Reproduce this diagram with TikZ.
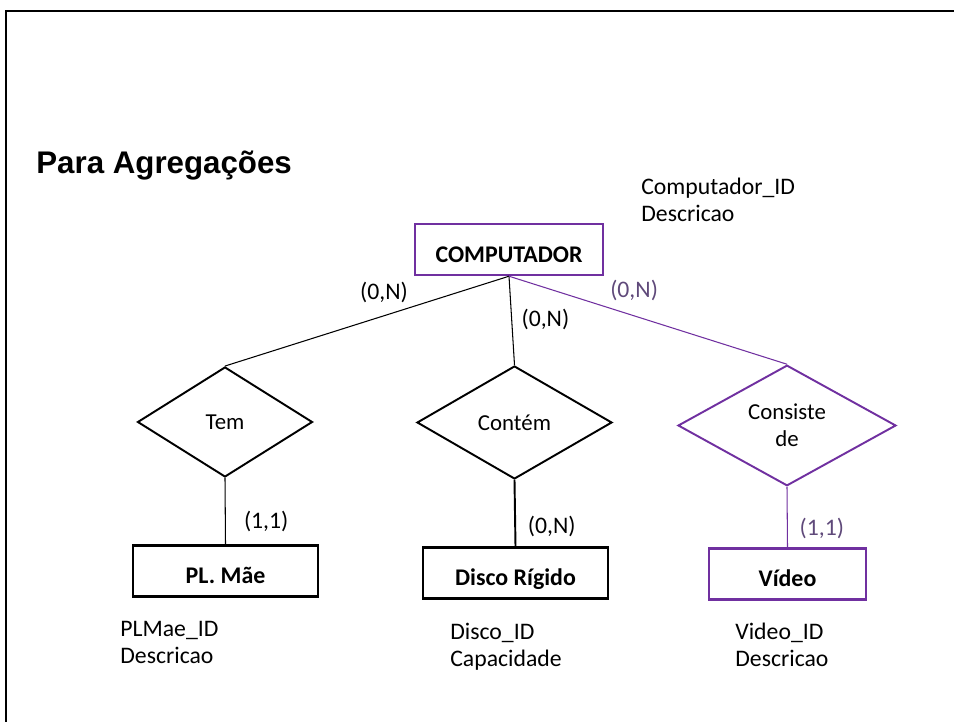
\documentclass[tikz,border=0pt]{standalone}
\usepackage{fontspec}
\setmainfont{Carlito}
\newfontfamily\titlefont{Liberation Sans}
\usetikzlibrary{shapes.geometric,positioning}
\definecolor{agpurple}{HTML}{7030A0}
\definecolor{agtext}{HTML}{5F497A}
\tikzstyle{entity} = [draw, rectangle, line width=1.4pt, minimum height=1.02cm, text height=0.52cm, text depth=0pt, font=\fontsize{13.6}{16}\selectfont\bfseries]
\tikzstyle{relation} = [draw, diamond, line width=1.1pt, inner sep=0pt, align=center, font=\fontsize{13}{15.3}\selectfont]
\tikzstyle{attr} = [anchor=north west, inner sep=0pt, align=left, font=\fontsize{13.5}{15.3}\selectfont]
\tikzstyle{card} = [font=\fontsize{13.5}{15}\selectfont]
\tikzstyle{link} = [line width=0.6pt]

\begin{document}
\begin{tikzpicture}[x=0.02cm, y=-0.02cm]
    \useasboundingbox (0,0) rectangle (954,722);
    \draw[line width=1.4pt] (954,11) -- (6,11) -- (6,722);

    \node[anchor=base west, inner sep=0pt, font=\titlefont\bfseries\fontsize{17.8}{20}\selectfont] (title) at (36,174) {Para Agregações};

    \node[entity, draw=agpurple, minimum width=3.76cm] (comp) at (509,249.5) {COMPUTADOR};
    \node[attr] (compattr) at (641,178) {Computador\_ID\\Descricao};

    \node[relation, minimum width=3.5cm, minimum height=2.2cm] (tem) at (225,422) {Tem};
    \node[relation, minimum width=3.9cm, minimum height=2.26cm] (contem) at (514.5,422.5) {Contém};
    \node[relation, draw=agpurple, minimum width=4.36cm, minimum height=2.22cm] (consiste) at (787,425.5) {Consiste\\de};

    \node[entity, minimum width=3.7cm] (plmae) at (225.5,571) {PL. Mãe};
    \node[entity, minimum width=3.7cm] (disco) at (515.5,573) {Disco Rígido};
    \node[entity, draw=agpurple, minimum width=3.14cm] (video) at (787.5,574) {Vídeo};

    \node[attr] (plattr) at (120,621) {PLMae\_ID\\Descricao};
    \node[attr] (discoattr) at (450,623) {Disco\_ID\\Capacidade};
    \node[attr] (videoattr) at (735,623) {Video\_ID\\Descricao};

    \draw[link] (comp.south) -- node[card, pos=0.44, above=4pt] {(0,N)} (tem.north);
    \draw[link] (comp.south) -- node[card, pos=0.49, right=2pt] {(0,N)} (contem.north);
    \draw[link, agpurple] (comp.south) -- node[card, text=agtext, pos=0.45, above=5pt] {(0,N)} (consiste.north);
    \draw[link] (tem.south) -- node[card, pos=0.65, right=7pt] {(1,1)} (plmae.north);
    \draw[line width=1.1pt] (contem.south) -- node[card, pos=0.7, right=3.4pt] {(0,N)} (disco.north);
    \draw[link, agpurple] (consiste.south) -- node[card, text=agtext, pos=0.69, right=3.4pt] {(1,1)} (video.north);
\end{tikzpicture}
\end{document}
